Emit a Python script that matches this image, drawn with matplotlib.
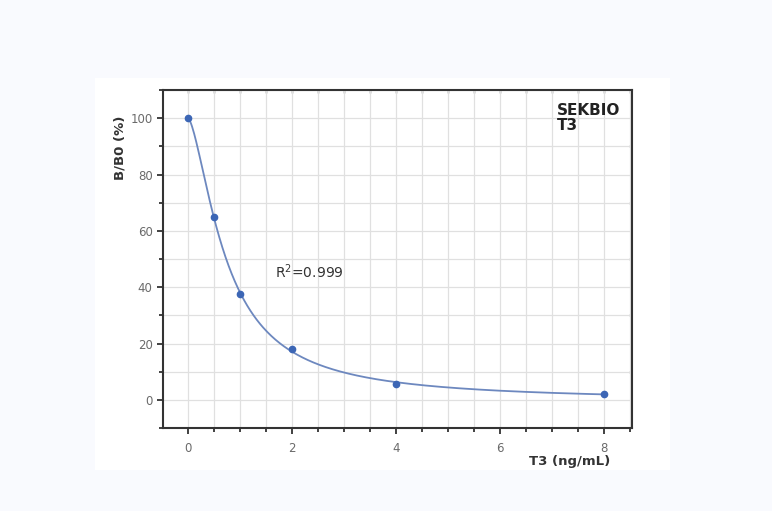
import numpy as np
import matplotlib.pyplot as plt
from matplotlib.ticker import MultipleLocator

conc = [0, 0.5, 1, 2, 4, 8]
bb0 = [100, 65, 37.5, 18, 5.7, 2.1]
r2_text = "R$^2$=0.999"


def fit_4pl(x, y):
    # coarse search on slope / midpoint, top & bottom solved by least squares
    x = np.asarray(x, float)
    y = np.asarray(y, float)
    best = None
    for b in np.linspace(0.5, 3, 126):
        for c in np.linspace(0.2, 3, 141):
            g = 1 / (1 + (x / c) ** b)
            A = np.column_stack([g, 1 - g])
            coef, *_ = np.linalg.lstsq(A, y, rcond=None)
            err = np.sum((A @ coef - y) ** 2)
            if best is None or err < best[0]:
                best = (err, coef[0], coef[1], b, c)
    _, a, d, b, c = best
    return lambda t: d + (a - d) / (1 + (t / c) ** b)


curve = fit_4pl(conc, bb0)
xs = np.linspace(0, 8, 400)

fig = plt.figure(figsize=(7.72, 5.11), dpi=100)
fig.patch.set_facecolor('#f9fafe')

# white card behind the chart
bg = fig.add_axes([0.123, 0.080, 0.745, 0.767], zorder=-5)
bg.set_facecolor('white')
bg.set_xticks([])
bg.set_yticks([])
for s in bg.spines.values():
    s.set_visible(False)

ax = fig.add_axes([0.2111, 0.1624, 0.6075, 0.6614])
ax.plot(xs, curve(xs), color='#6d88bf', lw=1.3, zorder=3)
ax.plot(conc, bb0, 'o', color='#3c66b5', ms=4.5, zorder=4)

ax.set_xlim(-0.48, 8.54)
ax.set_ylim(-10, 110)
ax.set_xticks([0, 2, 4, 6, 8])
ax.set_yticks([0, 20, 40, 60, 80, 100])
ax.xaxis.set_minor_locator(MultipleLocator(0.5))
ax.yaxis.set_minor_locator(MultipleLocator(10))
ax.grid(True, which='both', color='#e0e0e0', lw=0.9, zorder=0)
ax.set_axisbelow(True)

for s in ax.spines.values():
    s.set_color('#333333')
    s.set_linewidth(1.5)
ax.tick_params(which='both', direction='out', color='#333333', width=1.3,
               labelsize=8.5, labelcolor='#6a6a6a', top=False, right=False)
ax.tick_params(which='major', length=4)
ax.tick_params(which='minor', length=3)
ax.tick_params(axis='x', pad=6)

# small inward ticks on the top and right frame
sec_x = ax.secondary_xaxis('top')
sec_x.xaxis.set_major_locator(MultipleLocator(0.5))
sec_x.tick_params(direction='in', length=2.5, width=1, color='#555555', labeltop=False)
sec_x.spines['top'].set_visible(False)
sec_y = ax.secondary_yaxis('right')
sec_y.yaxis.set_major_locator(MultipleLocator(20))
sec_y.set_yticks([10, 30, 50, 70, 90])
sec_y.tick_params(direction='in', length=2.5, width=1, color='#555555', labelright=False)
sec_y.spines['right'].set_visible(False)

ax.text(1.67, 45.4, r2_text, fontsize=10, color='#333333', va='center', ha='left')
ax.text(0.84, 0.962, "SEKBIO\nT3", transform=ax.transAxes, fontsize=11,
        fontweight='bold', color='#222222', va='top', ha='left', linespacing=1.0)
ax.text(0.953, -0.098, "T3 (ng/mL)", transform=ax.transAxes, fontsize=9.5,
        fontweight='bold', color='#333333', va='center', ha='right')
ax.text(-0.092, 0.83, "B/B0 (%)", transform=ax.transAxes, fontsize=9.5,
        fontweight='bold', color='#333333', va='center', ha='center', rotation=90)

fig.savefig("out.png", dpi=100, facecolor=fig.get_facecolor())
